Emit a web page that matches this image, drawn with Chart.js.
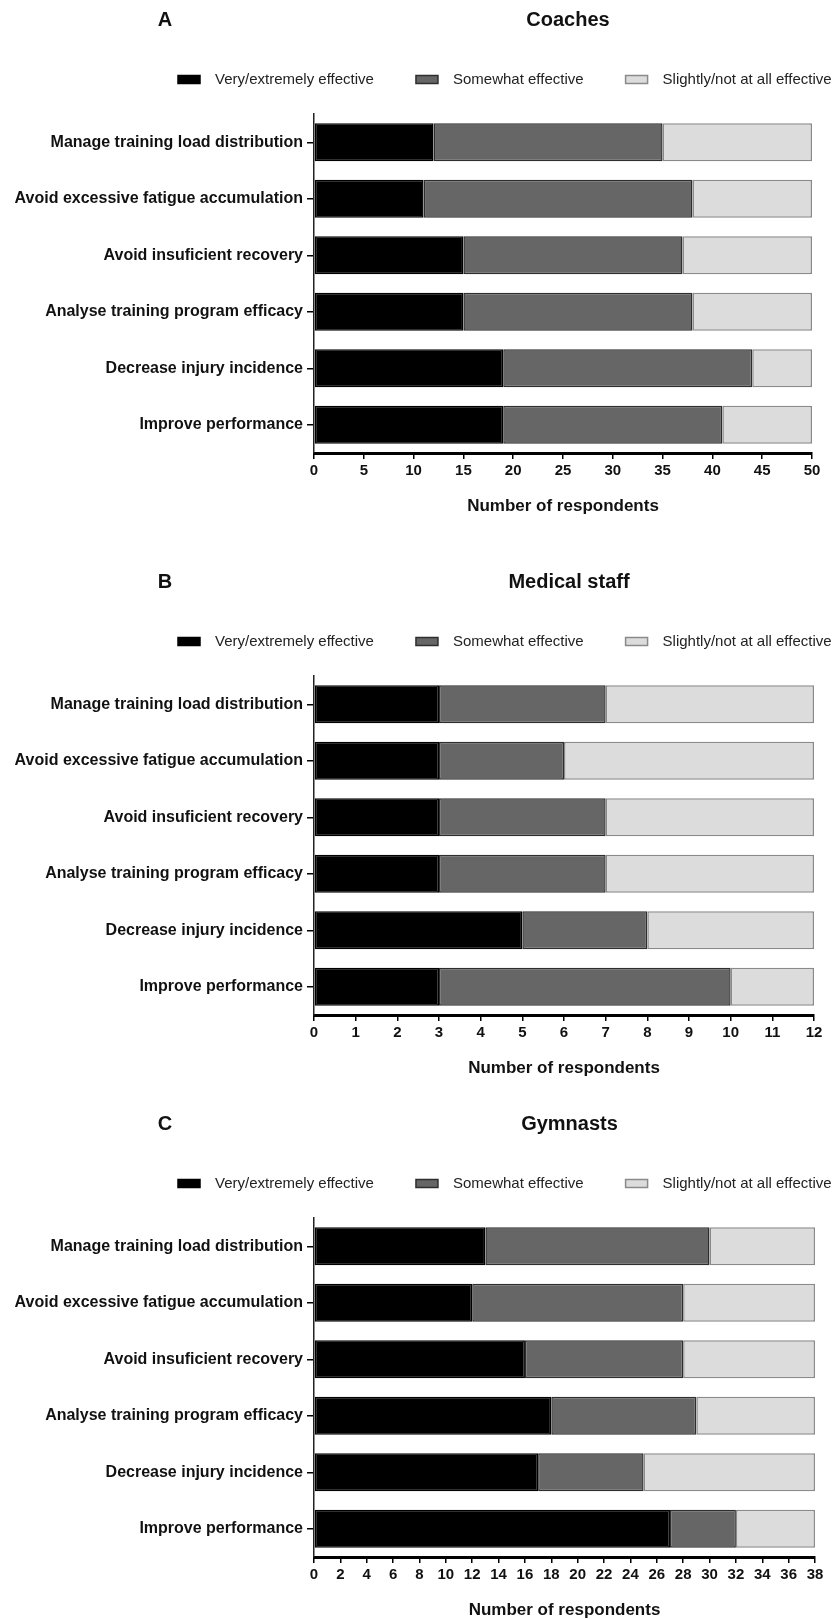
<!DOCTYPE html>
<html>
<head>
<meta charset="utf-8">
<title>Perceived effectiveness of training load monitoring</title>
<script src="https://cdn.jsdelivr.net/npm/chart.js@4.4.1/dist/chart.umd.min.js"></script>
<style>
  html, body { margin: 0; padding: 0; background: #ffffff; overflow: hidden; }
  body { width: 837px; height: 1619px; position: relative; }
  .panel { position: absolute; left: 0; width: 837px; height: 517px; }
</style>
</head>
<body>
<div class="panel" style="top:0px"><canvas id="chartA"></canvas></div>
<div class="panel" style="top:562px"><canvas id="chartB"></canvas></div>
<div class="panel" style="top:1104px"><canvas id="chartC"></canvas></div>

<script>
// ---- Data -------------------------------------------------------------
const categories = [
  'Manage training load distribution',
  'Avoid excessive fatigue accumulation',
  'Avoid insuficient recovery',
  'Analyse training program efficacy',
  'Decrease injury incidence',
  'Improve performance'
];
const seriesNames = ['Very/extremely effective', 'Somewhat effective', 'Slightly/not at all effective'];

// Coaches (n = 50)
const coachesVery     = [12, 11, 15, 15, 19, 19];
const coachesSomewhat = [23, 27, 22, 23, 25, 22];
const coachesSlightly = [15, 12, 13, 12,  6,  9];

// Medical staff (n = 12)
const medicalVery     = [3, 3, 3, 3, 5, 3];
const medicalSomewhat = [4, 3, 4, 4, 3, 7];
const medicalSlightly = [5, 6, 5, 5, 4, 2];

// Gymnasts (n = 38)
const gymnastsVery     = [13, 12, 16, 18, 17, 27];
const gymnastsSomewhat = [17, 16, 12, 11,  8,  5];
const gymnastsSlightly = [ 8, 10, 10,  9, 13,  6];

// Axis ranges (max, tick step)
const coachesAxis  = [50, 5];
const medicalAxis  = [12, 1];
const gymnastsAxis = [38, 2];

const panelLetters = ['A', 'B', 'C'];
const panelTitles  = ['Coaches', 'Medical staff', 'Gymnasts'];
const axisTitle    = 'Number of respondents';

// ---- Styling ----------------------------------------------------------
const FONT = '"Liberation Sans", Arial, Helvetica, sans-serif';
Chart.defaults.font.family = FONT;
Chart.defaults.color = '#111111';

const fills   = ['#000000', '#666666', '#dcdcdc'];
const borders = ['#000000', '#2e2e2e', '#8a8a8a'];

const LEGEND_PAD = 42;     // spacing between legend entries
const LEGEND_START = 178;  // left edge of the first legend swatch
const LEGEND_GAP = 17;     // extra room between legend and plot
const TITLE_SHIFT = 5;     // nudge of the panel title to the right

// Extra legend spacing + horizontal placement of legend / title
const layoutTweaks = {
  id: 'layoutTweaks',
  afterInit(chart) {
    const lg = chart.legend;
    if (lg && !lg._gapPatched) {
      const fit = lg.fit;
      lg.fit = function () { fit.call(this); this.height += LEGEND_GAP; };
      lg._gapPatched = true;
    }
  },
  afterLayout(chart) {
    const lg = chart.legend;
    if (lg) { lg.left = LEGEND_START - LEGEND_PAD; lg.right = chart.width * 3; }
    const tb = chart.titleBlock;
    if (tb) { tb.left += TITLE_SHIFT; tb.right += TITLE_SHIFT; }
  }
};

function makeLetterPlugin(letter) {
  return {
    id: 'panelLetter',
    afterDraw(chart) {
      const ctx = chart.ctx;
      const tb = chart.titleBlock;
      ctx.save();
      ctx.font = 'bold 20px ' + FONT;
      ctx.fillStyle = '#111111';
      ctx.textAlign = 'center';
      ctx.textBaseline = 'middle';
      ctx.fillText(letter, 165, tb.top + 20);
      ctx.restore();
    }
  };
}

function buildChart(canvasId, letter, title, very, somewhat, slightly, axis, rightPad) {
  const values = [very, somewhat, slightly];
  const datasets = seriesNames.map((name, i) => ({
    label: name,
    data: values[i],
    backgroundColor: fills[i],
    borderColor: borders[i],
    borderWidth: 1.5,
    borderSkipped: false,
    barPercentage: 0.67,
    categoryPercentage: 1.0
  }));

  return new Chart(document.getElementById(canvasId), {
    type: 'bar',
    data: { labels: categories, datasets },
    plugins: [layoutTweaks, makeLetterPlugin(letter)],
    options: {
      indexAxis: 'y',
      responsive: true,
      maintainAspectRatio: false,
      animation: false,
      layout: { padding: 0 },
      plugins: {
        tooltip: { enabled: false },
        title: {
          display: true,
          text: title,
          fullSize: false,
          color: '#111111',
          font: { size: 20, weight: 'bold', lineHeight: 1 },
          padding: { top: 10, bottom: 0 }
        },
        legend: {
          display: true,
          position: 'top',
          align: 'start',
          labels: {
            boxWidth: 22,
            boxHeight: 8,
            padding: LEGEND_PAD,
            color: '#222222',
            font: { size: 15 },
            generateLabels(chart) {
              const items = Chart.defaults.plugins.legend.labels.generateLabels(chart);
              items.forEach(it => { it.text = '\u2002' + it.text; });
              return items;
            }
          }
        }
      },
      scales: {
        x: {
          stacked: true,
          min: 0,
          max: axis[0],
          afterFit(scale) { scale.height = 64; scale.paddingRight = rightPad; scale.paddingLeft = 0; },
          ticks: {
            stepSize: axis[1],
            autoSkip: false,
            maxRotation: 0,
            padding: 3,
            color: '#111111',
            font: { size: 15, weight: 'bold' }
          },
          grid: {
            display: true,
            drawOnChartArea: false,
            drawTicks: true,
            tickLength: 6,
            color: '#000000',
            lineWidth: 1.5
          },
          border: { display: true, color: '#000000', width: 3 },
          title: {
            display: true,
            text: axisTitle,
            color: '#111111',
            font: { size: 17, weight: 'bold', lineHeight: 1.2 },
            padding: { top: 0, bottom: 0 }
          }
        },
        y: {
          stacked: true,
          afterFit(scale) { scale.width = 314; },
          ticks: {
            autoSkip: false,
            padding: 4,
            color: '#111111',
            font: { size: 16, weight: 'bold' }
          },
          grid: {
            display: true,
            offset: false,
            drawOnChartArea: false,
            drawTicks: true,
            tickLength: 7,
            color: '#000000',
            lineWidth: 1.5
          },
          border: { display: true, color: '#222222', width: 1.5 }
        }
      }
    }
  });
}

buildChart('chartA', panelLetters[0], panelTitles[0], coachesVery, coachesSomewhat, coachesSlightly, coachesAxis, 25);
buildChart('chartB', panelLetters[1], panelTitles[1], medicalVery, medicalSomewhat, medicalSlightly, medicalAxis, 23);
buildChart('chartC', panelLetters[2], panelTitles[2], gymnastsVery, gymnastsSomewhat, gymnastsSlightly, gymnastsAxis, 22);
</script>
</body>
</html>
